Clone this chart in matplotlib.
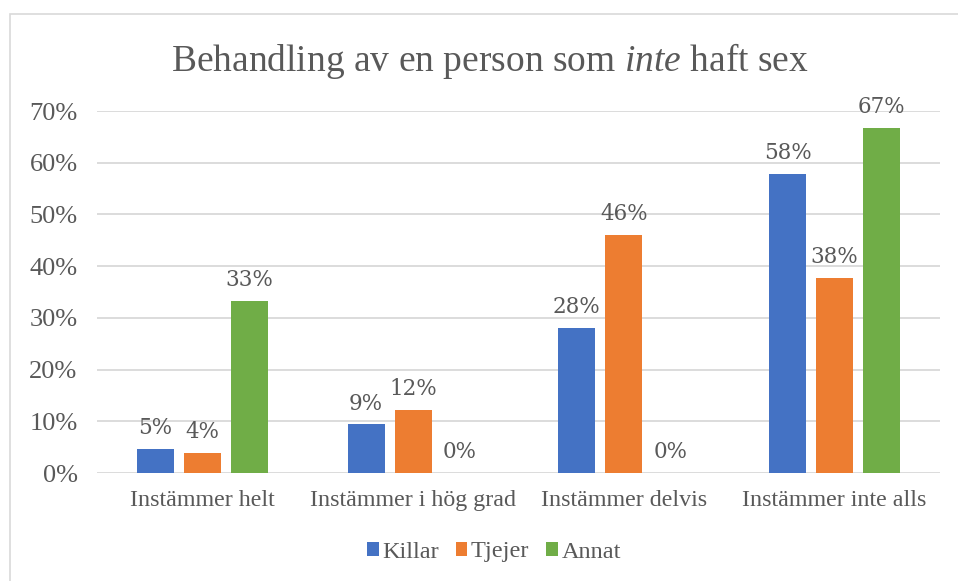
from matplotlib import pyplot as plt
from matplotlib.patches import Rectangle
import numpy as np

categories = ['Instämmer helt', 'Instämmer i hög grad',
              'Instämmer delvis', 'Instämmer inte alls']
killar = [4.7, 9.4, 28.1, 57.8]
tjejer = [3.9, 12.2, 46.0, 37.8]
annat = [33.3, 0.0, 0.0, 66.7]
series = [('Killar', killar, '#4472C4'),
          ('Tjejer', tjejer, '#ED7D31'),
          ('Annat', annat, '#70AD47')]
yticks = [0, 10, 20, 30, 40, 50, 60, 70]

txt = '#595959'
serif = 'Liberation Serif'
plt.rcParams['mathtext.fontset'] = 'custom'
plt.rcParams['mathtext.rm'] = serif
plt.rcParams['mathtext.it'] = serif + ':italic'

fig = plt.figure(figsize=(9.58, 5.81), dpi=100)
fig.patches.append(Rectangle((10 / 958, -0.1), 1.2, 1 - 14 / 581 + 0.1,
                             transform=fig.transFigure, fill=False,
                             edgecolor='#D9D9D9', linewidth=1.2))
ax = fig.add_axes([97 / 958, 1 - 473 / 581, 843 / 958, 362 / 581])

x = np.arange(len(categories))
w = 0.175
step = 0.223
for i, (name, vals, col) in enumerate(series):
    bars = ax.bar(x + (i - 1) * step, vals, w, color=col, label=name,
                  zorder=3)
    ax.bar_label(bars, labels=['{:.0f}%'.format(v) for v in vals],
                 padding=7, color=txt, fontsize=15.5, family='DejaVu Serif')

ax.set_xlim(-0.5, len(categories) - 0.5)
ax.set_ylim(0, 70)
ax.set_yticks(yticks)
ax.set_yticklabels(['{}%'.format(t) for t in yticks])
ax.set_xticks(x)
ax.set_xticklabels(categories)
ax.tick_params(length=0, colors=txt, pad=12)
ax.tick_params(axis='x', labelsize=17.3)
ax.tick_params(axis='y', labelsize=19, pad=14)
for lab in ax.get_xticklabels() + ax.get_yticklabels():
    lab.set_family(serif)
ax.grid(axis='y', color='#D9D9D9', linewidth=1.3, zorder=0)
for s in ax.spines.values():
    s.set_visible(False)

fig.text(490 / 958, 1 - 61 / 581, r'Behandling av en person som $\mathit{inte}$ haft sex',
         ha='center', va='center', fontsize=27, color=txt, family=serif)

leg = fig.legend(loc='center', bbox_to_anchor=(494 / 958, 1 - 552 / 581), ncol=3,
                 frameon=False, handlelength=0.47, handleheight=0.47,
                 handletextpad=0.15, columnspacing=0.7,
                 prop={'family': serif, 'size': 17.5})
for t in leg.get_texts():
    t.set_color(txt)

fig.savefig('out.png', dpi=100)
